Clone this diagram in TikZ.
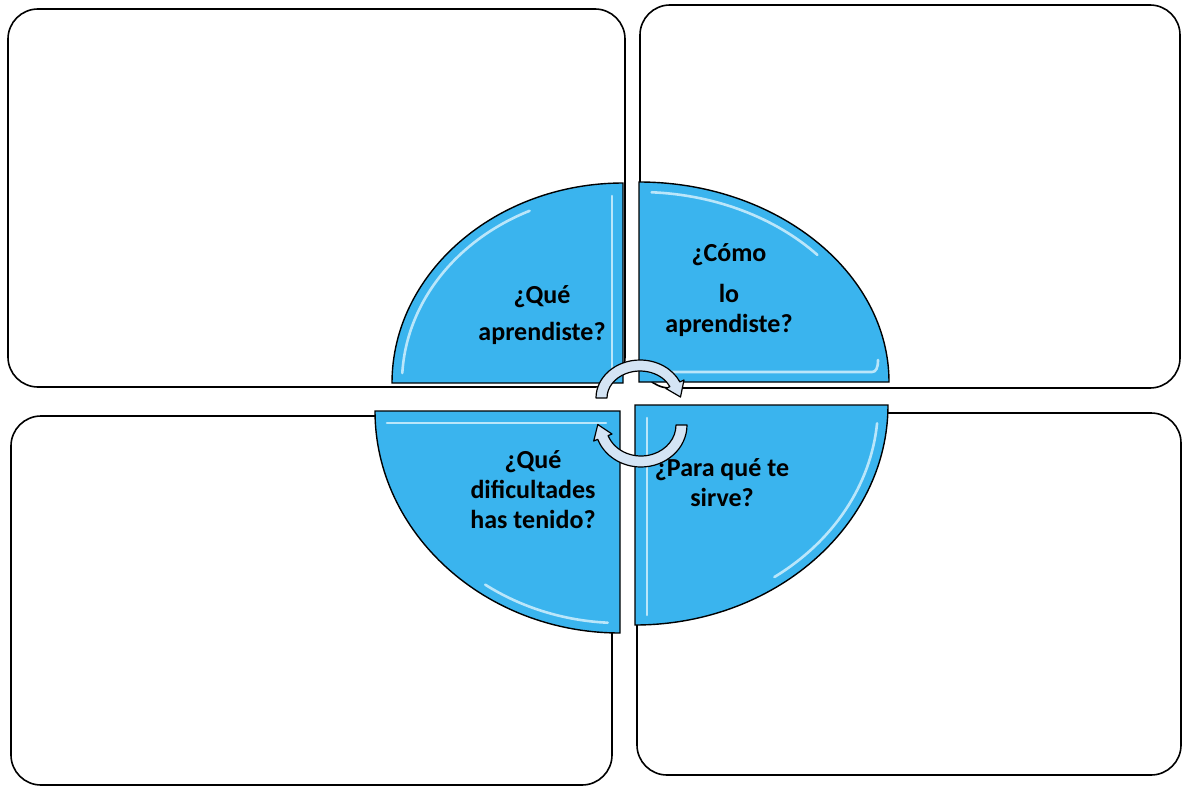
\documentclass[tikz,border=0pt]{standalone}
\usepackage{fontspec}
\setmainfont{Carlito}
\begin{document}
\begin{tikzpicture}[x=1pt,y=-1pt,
  box/.style={draw=black,line width=1.6pt,fill=white,rounded corners=30pt},
  quad/.style={draw=black,line width=1.4pt,fill=qblue},
  glow/.style={draw=qlight,line width=2.6pt,line cap=round,opacity=0.9},
  cyc/.style={draw=black,line width=1.2pt,fill=aback,line join=round},
  lbl/.style={font=\fontsize{26}{30}\selectfont\bfseries,text=black,align=center,inner sep=0pt}]
\definecolor{qblue}{RGB}{58,180,238}
\definecolor{qlight}{RGB}{200,236,252}
\definecolor{aback}{RGB}{212,228,244}
\useasboundingbox (0,0) rectangle (1184,787);
% outer boxes
\draw[box] (8,9) rectangle (625,387);
\draw[box] (640,5) rectangle (1180,388);
\draw[box] (11,416) rectangle (612,785);
\draw[box] (637,413) rectangle (1181,775);
% quadrants
\draw[quad] (623,183) -- (623,383) -- (392,383) .. controls (392,273) and (496,183) .. (623,183) -- cycle;
\draw[quad] (639,182) -- (639,382) -- (889,382) .. controls (889,272) and (776,182) .. (639,182) -- cycle;
\draw[quad] (620,411) -- (375,411) .. controls (375,533) and (485,633) .. (620,633) -- cycle;
\draw[quad] (635,405) -- (888,405) .. controls (888,526) and (774,625) .. (635,625) -- cycle;
% highlights
\draw[glow] (612,196) -- (612,370);
\draw[glow,shift={(623,383)}] (183:221 and 190) arc[start angle=183,end angle=245,x radius=221,y radius=190];
\draw[glow,shift={(639,382)}] (273:240 and 190) arc[start angle=273,end angle=318,x radius=240,y radius=190];
\draw[glow] (650,372) -- (872,372) .. controls (876,372) and (878,368) .. (878,360);
\draw[glow] (387,423) -- (606,423);
\draw[glow,shift={(620,411)}] (125:235 and 212) arc[start angle=125,end angle=93,x radius=235,y radius=212];
\draw[glow] (647,418) -- (647,615);
\draw[glow,shift={(635,405)}] (5:243 and 210) arc[start angle=5,end angle=55,x radius=243,y radius=210];
% texts
\node[lbl] (t1) at (542,315) {¿Qué\\[7pt]aprendiste?};
\node[lbl] (t2) at (729,290) {¿Cómo\\[11pt]lo\\aprendiste?};
\node[lbl] (t3) at (533,490) {¿Qué\\dificultades\\has tenido?};
\node[lbl] (t4) at (722,483) {¿Para qué te\\sirve?};
% circular arrows
\draw[cyc] (596,398) arc[start angle=180,end angle=335,x radius=44,y radius=38]
  -- (684,380) -- (680.5,397) -- (665.9,388.5) -- (669.9,386.6)
  arc[start angle=335,end angle=180,x radius=33,y radius=27] -- cycle;
\draw[cyc] (687,425) arc[start angle=0,end angle=160,x radius=46,y radius=42]
  -- (593.7,441) -- (597.8,424.5) -- (612,434) -- (608.1,435.6)
  arc[start angle=160,end angle=0,x radius=35,y radius=31] -- cycle;
\end{tikzpicture}
\end{document}
